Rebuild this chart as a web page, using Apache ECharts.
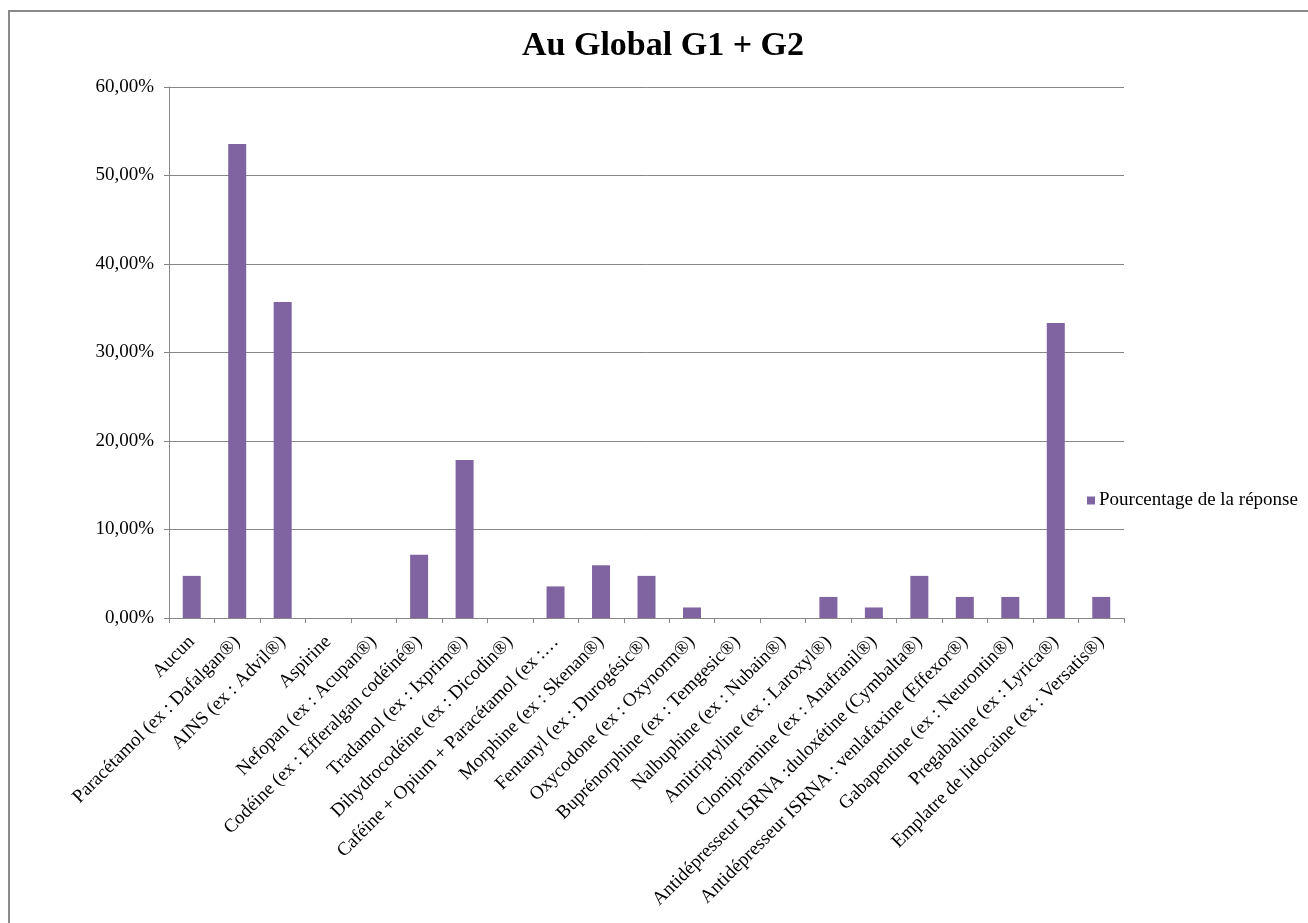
<!DOCTYPE html>
<html>
<head>
<meta charset="utf-8">
<script src="https://cdn.jsdelivr.net/npm/echarts@6/dist/echarts.min.js"></script>
<style>
html,body{margin:0;padding:0;background:#fff;overflow:hidden;}
#chart{width:1308px;height:923px;}
</style>
</head>
<body>
<div id="chart"></div>
<script>
const titleText = 'Au Global G1 + G2';
const seriesName = 'Pourcentage de la réponse';
const categories = [
  'Aucun',
  'Paracétamol (ex : Dafalgan®)',
  'AINS (ex : Advil®)',
  'Aspirine',
  'Nefopan (ex : Acupan®)',
  'Codéine (ex : Efferalgan codéiné®)',
  'Tradamol (ex : Ixprim®)',
  'Dihydrocodéine (ex : Dicodin®)',
  'Caféine + Opium + Paracétamol (ex :…',
  'Morphine (ex : Skenan®)',
  'Fentanyl (ex : Durogésic®)',
  'Oxycodone (ex : Oxynorm®)',
  'Buprénorphine (ex : Temgesic®)',
  'Nalbuphine (ex : Nubain®)',
  'Amitriptyline (ex : Laroxyl®)',
  'Clomipramine (ex : Anafranil®)',
  'Antidépresseur ISRNA :duloxétine (Cymbalta®)',
  'Antidépresseur ISRNA : venlafaxine (Effexor®)',
  'Gabapentine (ex : Neurontin®)',
  'Pregabaline (ex : Lyrica®)',
  'Emplatre de lidocaine (ex : Versatis®)'
];
const values = [4.76, 53.57, 35.71, 0, 0, 7.14, 17.86, 0, 3.57, 5.95, 4.76, 1.19, 0, 0, 2.38, 1.19, 4.76, 2.38, 2.38, 33.33, 2.38];
const yTicks = { min: 0, max: 60, interval: 10 };

const font = '"Liberation Serif", "Times New Roman", serif';
const chart = echarts.init(document.getElementById('chart'));
chart.setOption({
  animation: false,
  backgroundColor: '#ffffff',
  graphic: [{
    type: 'rect',
    shape: { x: 9, y: 11, width: 1400, height: 1000 },
    style: { fill: 'none', stroke: '#8a8a8a', lineWidth: 2 },
    silent: true
  }],
  title: {
    text: titleText,
    left: 517,
    top: 24,
    textStyle: { fontFamily: font, fontSize: 34, fontWeight: 'bold', color: '#000' }
  },
  legend: {
    data: [seriesName],
    left: 1082,
    top: 486,
    icon: 'rect',
    itemWidth: 8,
    itemHeight: 8,
    itemGap: 4,
    textStyle: { fontFamily: font, fontSize: 19, color: '#000', padding: [0, 0, 0, -1] }
  },
  grid: { left: 169, right: 184, top: 87, bottom: 305, containLabel: false },
  xAxis: {
    type: 'category',
    data: categories,
    axisLine: { lineStyle: { color: '#868686', width: 1 } },
    axisTick: { show: true, length: 5, lineStyle: { color: '#868686' } },
    axisLabel: {
      rotate: 45,
      interval: 0,
      margin: 21,
      fontFamily: font,
      fontSize: 19,
      color: '#000'
    }
  },
  yAxis: {
    type: 'value',
    min: yTicks.min,
    max: yTicks.max,
    interval: yTicks.interval,
    axisLine: { show: true, lineStyle: { color: '#868686', width: 1 } },
    axisTick: { show: true, length: 5, lineStyle: { color: '#868686' } },
    splitLine: { lineStyle: { color: '#868686', width: 1 } },
    axisLabel: {
      margin: 15,
      fontFamily: font,
      fontSize: 19,
      color: '#000',
      formatter: v => v.toFixed(2).replace('.', ',') + '%'
    }
  },
  series: [{
    name: seriesName,
    type: 'bar',
    data: values,
    barWidth: 18,
    itemStyle: { color: '#8064a2' }
  }]
});
</script>
</body>
</html>
